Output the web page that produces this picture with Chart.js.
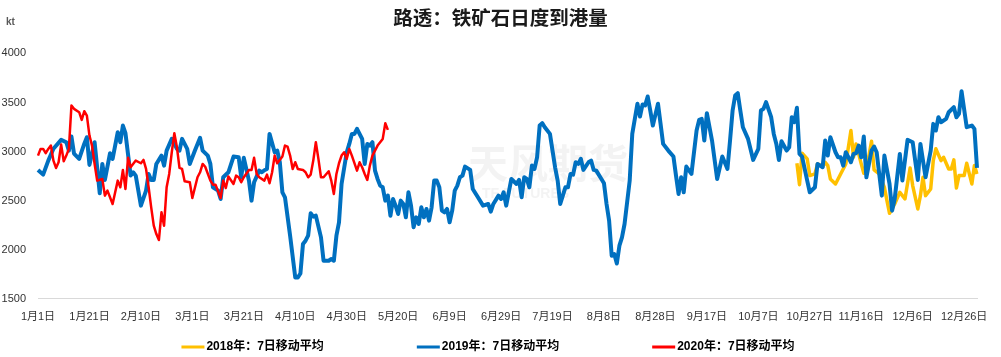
<!DOCTYPE html>
<html>
<head>
<meta charset="utf-8">
<script src="https://cdn.jsdelivr.net/npm/chart.js@4.4.1/dist/chart.umd.min.js"></script>
<style>
  html, body { margin: 0; padding: 0; background: #fff; }
</style>
</head>
<body>
<canvas id="myChart" width="1001" height="357"></canvas>
<script>
// calendar of a leap year, one category per day
const monthDays = [31, 29, 31, 30, 31, 30, 31, 31, 30, 31, 30, 31];
const dayLabels = [];
monthDays.forEach((n, m) => {
  for (let d = 1; d <= n; d++) dayLabels.push((m + 1) + "月" + d + "日");
});

// 2018: 7-day moving average (only Nov-Dec shown)
const days2018 = [295, 296, 297, 299, 300, 302, 303, 305, 306, 307, 308, 310, 312, 314, 315, 316, 317, 318, 320, 321,
  323, 324, 325, 327, 329, 330, 331, 333, 335, 336, 337, 339, 340, 342, 343, 344, 345, 347, 348, 349,
  351, 352, 354, 355, 356, 357, 358, 360, 361, 363, 364, 365];
const vals2018 = [2881, 2663, 2983, 2926, 2755, 2772, 2874, 2847, 2891, 2857, 2721, 2670, 2772, 2874, 3044, 3214, 2942, 3078, 2874, 2779,
  2959, 3105, 2813, 2772, 2636, 2500, 2371, 2466, 2585, 2551, 2517, 2833, 2653, 2415, 2551, 2738, 2551, 2619, 2908, 3028,
  2908, 2942, 2823, 2823, 2915, 2629, 2755, 2755, 2881, 2670, 2857, 2772];

// 2019: 7-day moving average
const days2019 = [0, 2, 4, 6, 9, 11, 12, 13, 14, 16, 18, 19, 20, 22, 24, 25, 26, 28, 29, 31,
  32, 33, 34, 36, 37, 38, 40, 42, 43, 44, 45, 46, 48, 49, 50, 52, 54, 55, 56, 58,
  59, 61, 63, 64, 66, 67, 68, 70, 71, 72, 74, 76, 78, 79, 80, 82, 83, 84, 86, 87,
  88, 89, 90, 92, 93, 94, 95, 96, 98, 100, 101, 102, 103, 104, 105, 106, 107, 108, 110, 111,
  113, 114, 115, 116, 117, 118, 120, 121, 122, 123, 124, 126, 127, 128, 129, 130, 131, 132, 133, 134,
  135, 136, 137, 138, 139, 140, 141, 142, 143, 144, 145, 146, 147, 148, 149, 150, 151, 152, 153, 154,
  155, 156, 157, 158, 159, 160, 161, 162, 163, 164, 165, 166, 168, 169, 171, 173, 175, 176, 177, 179,
  180, 181, 182, 184, 186, 187, 188, 189, 190, 191, 192, 193, 194, 195, 196, 197, 199, 200, 201, 202,
  203, 204, 205, 206, 207, 208, 209, 210, 211, 212, 214, 215, 216, 217, 219, 220, 221, 222, 223, 224,
  225, 226, 227, 228, 230, 231, 233, 234, 235, 236, 237, 238, 239, 241, 243, 245, 247, 248, 249, 250,
  251, 252, 254, 256, 257, 258, 259, 260, 262, 264, 266, 268, 269, 270, 271, 272, 273, 274, 276, 278,
  280, 281, 282, 283, 285, 286, 287, 288, 289, 291, 292, 293, 294, 295, 296, 297, 299, 300, 302, 303,
  305, 306, 307, 308, 310, 311, 312, 313, 314, 316, 317, 318, 319, 320, 321, 322, 324, 325, 326, 328,
  329, 331, 332, 333, 335, 336, 338, 340, 342, 343, 345, 347, 348, 349, 350, 351, 353, 354, 356, 357,
  358, 359, 361, 363, 364, 365];
const vals2019 = [2813, 2765, 2908, 3028, 3119, 3095, 3010, 3153, 2980, 2926, 3080, 3146, 2864, 3095, 2575, 2874, 2711, 2983, 2926, 3197,
  3095, 3265, 3187, 2755, 2789, 2755, 2449, 2602, 2772, 2711, 2711, 2874, 2959, 2857, 3010, 3129, 3028, 3010, 3129, 3028,
  2874, 3010, 3140, 3010, 2959, 2874, 2636, 2602, 2517, 2738, 2789, 2949, 2942, 2738, 2936, 2704, 2500, 2687, 2806, 2789,
  2810, 2823, 3180, 2993, 3010, 2891, 2585, 2534, 2143, 1717, 1717, 1758, 2058, 2092, 2143, 2371, 2337, 2347, 2126, 1888,
  1888, 1905, 1888, 2143, 2279, 2670, 2993, 3078, 3180, 3180, 3231, 3129, 2874, 3078, 3061, 3095, 2806, 2721, 2653, 2636,
  2500, 2551, 2347, 2517, 2449, 2364, 2500, 2466, 2330, 2585, 2449, 2228, 2330, 2262, 2432, 2330, 2415, 2296, 2432, 2704,
  2704, 2636, 2398, 2381, 2415, 2279, 2398, 2602, 2653, 2738, 2755, 2847, 2813, 2619, 2534, 2449, 2466, 2388, 2466, 2551,
  2517, 2585, 2449, 2721, 2670, 2711, 2534, 2738, 2721, 2636, 2857, 2823, 2942, 3265, 3289, 3248, 3180, 3010, 2840, 2704,
  2466, 2551, 2636, 2636, 2772, 2765, 2891, 2874, 2926, 2813, 2891, 2908, 2813, 2806, 2721, 2677, 2466, 2296, 1939, 1956,
  1860, 2041, 2126, 2262, 2704, 3180, 3487, 3357, 3480, 3470, 3561, 3418, 3265, 3487, 3078, 3010, 2949, 2755, 2568, 2738,
  2585, 2847, 2772, 3214, 3323, 3333, 3112, 3391, 3112, 2721, 2949, 2823, 3112, 3418, 3571, 3595, 3418, 3248, 3129, 2915,
  3027, 3418, 3435, 3503, 3350, 3180, 3078, 2915, 3105, 3010, 3044, 3350, 3299, 3446, 2976, 2949, 2704, 2585, 2636, 2874,
  2840, 3112, 2959, 3146, 2993, 2942, 2942, 2857, 2993, 2891, 2976, 2983, 3061, 2942, 3153, 2738, 3010, 3051, 2993, 2551,
  2959, 2670, 2398, 2517, 2976, 2704, 3119, 3095, 2711, 3078, 2738, 3010, 3282, 3214, 3350, 3299, 3333, 3401, 3452, 3350,
  3384, 3615, 3248, 3265, 3231, 2833];

// 2020: 7-day moving average (Jan - mid May)
const days2020 = [0, 1, 2, 3, 4, 5, 6, 7, 8, 9, 10, 11, 12, 13, 14, 16, 17, 18, 19, 20,
  21, 22, 23, 25, 26, 27, 29, 30, 31, 32, 33, 34, 35, 36, 38, 40, 41, 42, 43, 44,
  45, 46, 47, 48, 49, 50, 51, 52, 53, 54, 55, 56, 57, 59, 60, 62, 63, 64, 65, 67,
  68, 69, 71, 72, 73, 74, 76, 77, 78, 79, 80, 82, 83, 84, 85, 86, 88, 89, 90, 91,
  92, 93, 95, 96, 97, 98, 99, 100, 101, 103, 104, 105, 106, 107, 108, 109, 110, 111, 113, 114,
  115, 116, 117, 118, 119, 120, 121, 122, 124, 125, 126, 127, 128, 129, 130, 131, 132, 134, 135, 136];
const vals2020 = [2959, 3027, 3027, 2983, 3027, 3061, 2908, 2833, 2891, 3071, 2901, 2959, 3027, 3469, 3435, 3401, 3323, 3411, 3367, 3163,
  3061, 2874, 2704, 2721, 2551, 2602, 2466, 2585, 2704, 2636, 2813, 2619, 2936, 2840, 2908, 2881, 2915, 2823, 2636, 2432,
  2245, 2160, 2099, 2381, 2245, 2636, 2772, 2993, 3187, 3044, 2833, 2823, 2697, 2687, 2527, 2738, 2789, 2874, 2845, 2704,
  2663, 2663, 2527, 2704, 2629, 2745, 2670, 2755, 2738, 2687, 2738, 2813, 2813, 2936, 2772, 2738, 2704, 2765, 2677, 2789,
  2959, 2881, 2949, 3061, 3051, 2959, 2823, 2891, 2823, 2813, 2789, 2738, 2765, 2908, 3095, 2926, 2738, 2738, 2799, 2704,
  2568, 2772, 2881, 2959, 2993, 2926, 3027, 2959, 2806, 2891, 2840, 2772, 2711, 2857, 2959, 3010, 3061, 3129, 3289, 3221];

const yTicks = [1500, 2000, 2500, 3000, 3500, 4000];

function buildSeries(days, vals) {
  const arr = new Array(dayLabels.length).fill(null);
  days.forEach((d, i) => { arr[d] = vals[i]; });
  return arr;
}

const FONT = "'Liberation Sans', 'Noto Sans CJK SC', sans-serif";

// faint source watermark, under the lines
const watermark = {
  id: "watermark",
  beforeDatasetsDraw(chart) {
    const ctx = chart.ctx;
    ctx.save();
    ctx.fillStyle = "rgba(200,200,200,0.22)";
    ctx.font = "bold 40px 'Noto Sans CJK SC'";
    ctx.textBaseline = "alphabetic";
    ctx.fillText("天风期货", 468, 178);
    ctx.font = "bold 14px 'Liberation Sans'";
    ctx.fillText("TF FUTURES", 482, 198);
    ctx.restore();
  }
};

// unit label and legend drawn on the canvas
const extras = {
  id: "extras",
  afterDraw(chart) {
    const ctx = chart.ctx;
    ctx.save();
    ctx.fillStyle = "#595959";
    ctx.font = "bold 10px " + FONT;
    ctx.textBaseline = "middle";
    ctx.fillText("kt", 6, 22);

    ctx.font = "bold 12px " + FONT;
    const sets = chart.data.datasets;
    const boxW = 23, gapText = 2, gapItem = 93;
    const widths = sets.map(ds => boxW + gapText + ctx.measureText(ds.label).width);
    const total = widths.reduce((a, b) => a + b, 0) + gapItem * (sets.length - 1);
    let x = 488 - total / 2;
    const y = 347;
    sets.forEach((ds, i) => {
      ctx.fillStyle = ds.borderColor;
      ctx.fillRect(x, y - 1.5, boxW, 3);
      ctx.fillStyle = "#000";
      ctx.fillText(ds.label, x + boxW + gapText, y);
      x += widths[i] + gapItem;
    });
    ctx.restore();
  }
};

const data = {
  labels: dayLabels,
  datasets: [
    {
      label: "2018年：7日移动平均",
      data: buildSeries(days2018, vals2018),
      borderColor: "#FFC000",
      borderWidth: 3.5,
      order: 3
    },
    {
      label: "2019年：7日移动平均",
      data: buildSeries(days2019, vals2019),
      borderColor: "#0070C0",
      borderWidth: 4,
      order: 2
    },
    {
      label: "2020年：7日移动平均",
      data: buildSeries(days2020, vals2020),
      borderColor: "#FF0000",
      borderWidth: 2.5,
      order: 1
    }
  ]
};
data.datasets.forEach(ds => {
  ds.pointRadius = 0;
  ds.spanGaps = true;
  ds.tension = 0;
  ds.fill = false;
  ds.borderJoinStyle = "round";
});

const config = {
  type: "line",
  data: data,
  options: {
    responsive: false,
    animation: false,
    layout: { padding: { left: 0, right: 0, top: 0, bottom: 21 } },
    plugins: {
      legend: { display: false },
      tooltip: { enabled: false },
      title: {
        display: true,
        text: "路透：铁矿石日度到港量",
        color: "#1a1a1a",
        font: { size: 19.5, weight: "bold", family: FONT },
        padding: { top: 8, bottom: 22 }
      }
    },
    scales: {
      x: {
        type: "category",
        grid: { display: false, drawTicks: false },
        border: { display: true, color: "#d9d9d9", width: 1 },
        ticks: {
          autoSkip: false,
          maxRotation: 0,
          minRotation: 0,
          padding: 12,
          color: "#333",
          font: { size: 11, family: FONT },
          callback: function (v, i) {
            return i % 20 === 0 ? this.getLabelForValue(v) : null;
          }
        }
      },
      y: {
        min: yTicks[0],
        max: yTicks[yTicks.length - 1],
        afterFit: s => { s.width = 38; },
        afterBuildTicks: s => { s.ticks = yTicks.map(v => ({ value: v })); },
        grid: { display: false, drawTicks: false },
        border: { display: false },
        ticks: {
          padding: 12,
          color: "#333",
          font: { size: 11, family: FONT },
          callback: v => String(v)
        }
      },
      // empty right margin so the title is centred on the whole canvas
      yRight: {
        position: "right",
        min: yTicks[0],
        max: yTicks[yTicks.length - 1],
        afterFit: s => { s.width = 24; },
        grid: { display: false, drawTicks: false },
        border: { display: false },
        ticks: { display: false }
      }
    }
  },
  plugins: [watermark, extras]
};

const ctx = document.getElementById("myChart");
const myChart = new Chart(ctx, config);
</script>
</body>
</html>
